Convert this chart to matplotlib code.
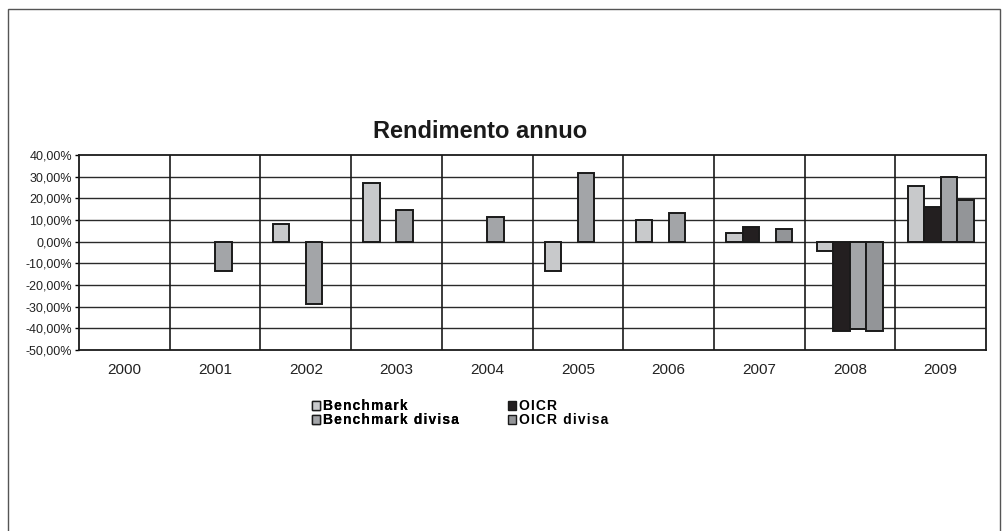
import numpy as np
import matplotlib
matplotlib.use("Agg")
import matplotlib.pyplot as plt
from matplotlib.patches import Rectangle, Patch
from matplotlib.ticker import FuncFormatter

plt.rcParams['font.family'] = ['Liberation Sans', 'DejaVu Sans']

years = ['2000', '2001', '2002', '2003', '2004', '2005', '2006', '2007', '2008', '2009']
nan = np.nan
benchmark = [nan, nan, 8.3, 27.3, nan, -13.5, 9.9, 3.9, -4.3, 25.6]
oicr = [nan, nan, nan, nan, nan, nan, nan, 6.6, -41.2, 15.8]
benchmark_divisa = [nan, -13.4, -28.6, 14.8, 11.4, 31.5, 13.3, nan, -40.2, 29.8]
oicr_divisa = [nan, nan, nan, nan, nan, nan, nan, 5.7, -41.1, 19.0]

series_names = ['Benchmark', 'OICR', 'Benchmark divisa', 'OICR divisa']
series_vals = [benchmark, oicr, benchmark_divisa, oicr_divisa]
colors = ['#c8c9cb', '#231f20', '#a3a5a8', '#939598']

W, H = 1006, 531
fig = plt.figure(figsize=(W / 100, H / 100), dpi=100)

# outer frame
fig.patches.append(Rectangle((8 / W, -0.05), (1000 - 8) / W, 1.05 - 9 / H,
                             transform=fig.transFigure, fill=False,
                             edgecolor='#555555', linewidth=1.0))

ax = fig.add_axes([79 / W, 1 - 350 / H, (986 - 79) / W, (350 - 155) / H])
x = np.arange(len(years))
bw = 0.182
for i, (name, vals, c) in enumerate(zip(series_names, series_vals, colors)):
    ax.bar(x + (i - 1.5) * bw, vals, width=bw, color=c, edgecolor='#1a1a1a',
           linewidth=1.4, zorder=3, label=name)

ax.set_xlim(-0.5, len(years) - 0.5)
ax.set_ylim(-50, 40)
ax.set_yticks(np.arange(-50, 41, 10))
ax.yaxis.set_major_formatter(FuncFormatter(lambda v, p: f"{v:.2f}%".replace('.', ',')))
for yv in np.arange(-40, 31, 10):
    ax.axhline(yv, color='#2a2a2a', linewidth=1.0, zorder=1)
for xv in np.arange(0.5, len(years) - 0.5, 1):
    ax.axvline(xv, color='#1a1a1a', linewidth=1.2, zorder=1)
ax.set_xticks(x)
ax.set_xticklabels(years, fontsize=11, color='#222222')
ax.tick_params(axis='x', length=0, pad=9)
ax.tick_params(axis='y', length=3, width=1, direction='out', labelsize=9,
               labelcolor='#222222', pad=2)
for s in ax.spines.values():
    s.set_color('#1a1a1a')
    s.set_linewidth(1.3)

fig.text(480 / W, 1 - 131 / H, 'Rendimento annuo', ha='center', va='center',
         fontsize=17, fontweight='bold', color='#1a1a1a')

def spaced(s):
    return '\u200a'.join(s)

handles = [Patch(facecolor=c, edgecolor='#1a1a1a', linewidth=1.0) for c in colors]
common = dict(loc='upper left', frameon=False,
              prop={'weight': 'bold', 'size': 10}, handlelength=0.6, handleheight=0.6,
              handletextpad=0.2, labelspacing=0.02, borderpad=0, borderaxespad=0)
leg1 = fig.legend([handles[0], handles[2]], [spaced(series_names[0]), spaced(series_names[2])],
                  bbox_to_anchor=(312 / W, 1 - 399 / H), **common)
fig.add_artist(leg1)
leg2 = fig.legend([handles[1], handles[3]], [spaced(series_names[1]), spaced(series_names[3])],
                  bbox_to_anchor=(508 / W, 1 - 399 / H), **common)

fig.savefig('out.png', dpi=100, facecolor='white')
